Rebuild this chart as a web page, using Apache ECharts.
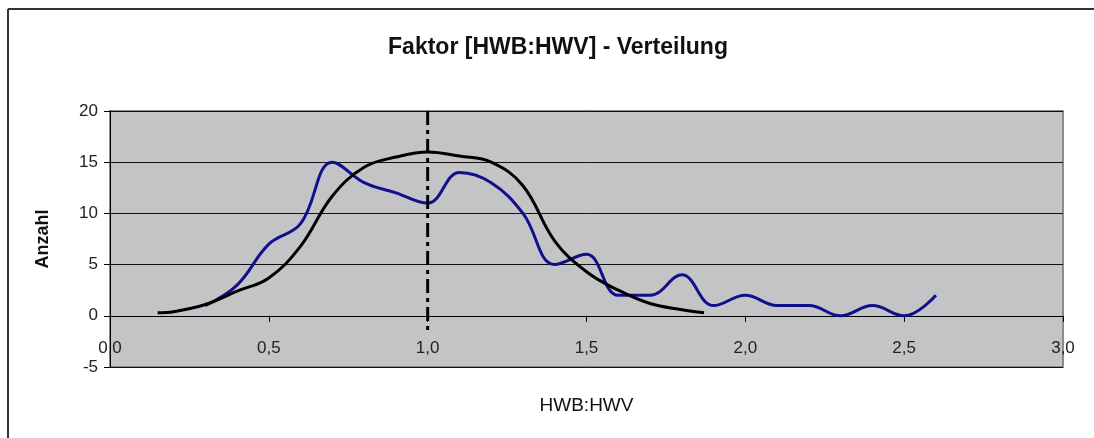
<!DOCTYPE html>
<html>
<head>
<meta charset="utf-8">
<script src="https://cdn.jsdelivr.net/npm/echarts@6/dist/echarts.min.js"></script>
<style>
  html, body { margin: 0; padding: 0; background: #fff; }
  #chart { width: 1094px; height: 438px; }
</style>
</head>
<body>
<div id="chart"></div>
<script>
// Häufigkeit (Anzahl) je Klasse HWB:HWV
const blueX = [0.3, 0.4, 0.5, 0.6, 0.7, 0.8, 0.9, 1.0, 1.1, 1.2, 1.3, 1.4, 1.5, 1.6, 1.7, 1.8, 1.9, 2.0, 2.1, 2.2, 2.3, 2.4, 2.5, 2.6];
const blueY = [1, 3, 7, 9, 15, 13, 12, 11, 14, 13, 10, 5, 6, 2, 2, 4, 1, 2, 1, 1, 0, 1, 0, 2];

// angepasste Verteilungskurve
const curveX = [0.15, 0.2, 0.3, 0.4, 0.5, 0.6, 0.7, 0.8, 0.9, 1.0, 1.1, 1.2, 1.3, 1.4, 1.5, 1.6, 1.7, 1.8, 1.87];
const curveY = [0.3, 0.4, 1.1, 2.4, 3.7, 6.8, 11.7, 14.5, 15.5, 16, 15.6, 15, 12.7, 7.3, 4.3, 2.5, 1.2, 0.6, 0.3];

// Mittelwert-Linie bei 1,0
const meanX = [1.0, 1.0];
const meanY = [20, -1.4];

const zip = (xs, ys) => xs.map((x, i) => [x, ys[i]]);

const chart = echarts.init(document.getElementById('chart'));

chart.setOption({
    animation: false,
    backgroundColor: '#fff',
    textStyle: { fontFamily: 'Liberation Sans, Arial, sans-serif' },
    title: {
        text: 'Faktor [HWB:HWV] - Verteilung',
        left: 553,
        top: 31,
        textAlign: 'center',
        textStyle: { fontSize: 23, fontWeight: 'bold', color: '#111' }
    },
    graphic: [
        { type: 'line', shape: { x1: 8, y1: 9, x2: 8, y2: 438 }, style: { stroke: '#333', lineWidth: 2 } },
        { type: 'line', shape: { x1: 8, y1: 9, x2: 1094, y2: 9 }, style: { stroke: '#333', lineWidth: 2 } }
    ],
    grid: {
        left: 110, right: 31, top: 111, bottom: 71,
        outerBoundsMode: 'none',
        containLabel: false,
        show: true,
        backgroundColor: '#c4c3c6',
        borderColor: '#8c8c8c',
        borderWidth: 2
    },
    xAxis: {
        type: 'value',
        min: 0, max: 3, interval: 0.5,
        name: 'HWB:HWV',
        nameLocation: 'middle',
        nameGap: 29,
        nameTextStyle: { fontSize: 19, color: '#111' },
        axisLine: { onZero: true, lineStyle: { color: '#000', width: 1 } },
        axisTick: { show: true, length: 6, lineStyle: { color: '#000' } },
        axisLabel: {
            fontSize: 17, color: '#222', margin: -27,
            formatter: v => v.toFixed(1).replace('.', ',')
        },
        splitLine: { show: false }
    },
    yAxis: {
        type: 'value',
        min: -5, max: 20, interval: 5,
        name: 'Anzahl',
        nameLocation: 'middle',
        nameGap: 58,
        nameTextStyle: { fontSize: 18, fontWeight: 'bold', color: '#111' },
        axisLine: { show: true, lineStyle: { color: '#000', width: 1 } },
        axisTick: { show: true, length: 6, lineStyle: { color: '#000' } },
        axisLabel: { fontSize: 17, color: '#222', margin: 12 },
        splitLine: { show: true, lineStyle: { color: '#111', width: 1 } }
    },
    series: [
        {
            type: 'line',
            data: zip(blueX, blueY),
            smooth: 0.4,
            symbol: 'none',
            lineStyle: { color: '#10108c', width: 3 },
            z: 3
        },
        {
            type: 'line',
            data: zip(curveX, curveY),
            smooth: 0.4,
            symbol: 'none',
            lineStyle: { color: '#000', width: 3 },
            z: 4
        },
        {
            type: 'line',
            data: zip(meanX, meanY),
            symbol: 'none',
            lineStyle: { color: '#000', width: 3, type: [14, 5, 4, 5] },
            z: 5
        }
    ]
});
</script>
</body>
</html>
